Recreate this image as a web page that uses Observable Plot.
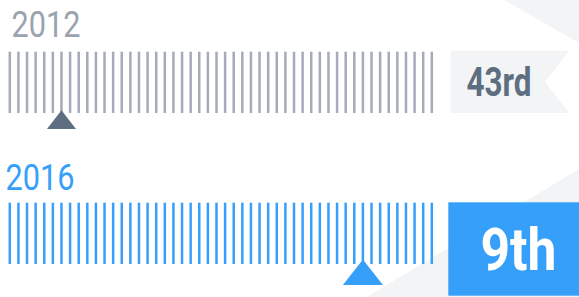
<!DOCTYPE html>
<html>
<head>
<meta charset="utf-8">
<script src="https://cdn.jsdelivr.net/npm/d3@7"></script>
<script src="https://cdn.jsdelivr.net/npm/@observablehq/plot@0.6"></script>
<style>
  html, body { margin: 0; padding: 0; background: #ffffff; }
  #chart { width: 579px; height: 297px; overflow: hidden; }
</style>
</head>
<body>
<div id="chart"></div>
<script>
// ---- data ----
const years = ["2012", "2016"];
const rankLabels = ["43rd", "9th"];
const markerPositions = [7, 42]; // slot of the marker along the strip, counted from the left
const stateCount = 50;           // one tick per state

const rows = years.map((year, i) => ({year, label: rankLabels[i], pos: markerPositions[i]}));
const ticks = years.flatMap(year => d3.range(1, stateCount + 1).map(slot => ({year, slot})));

const GRAY_TICK = "#a3acb8", GRAY_TEXT = "#9aa3ae", SLATE = "#5e6e81", LIGHT = "#f3f4f6", BLUE = "#369ffa";
const FONT = "Roboto, 'Liberation Sans', sans-serif";

// flattened upward triangle, apex at the anchor point
const flatTriangle = {
  draw(ctx, size) {
    const r = Math.sqrt(size / Math.PI);
    const h = 1.28 * r;
    ctx.moveTo(0, 0);
    ctx.lineTo(r, h);
    ctx.lineTo(-r, h);
    ctx.closePath();
  }
};

// decorative backgrounds and rank boxes, placed relative to the scales
function decorations(index, scales, values, dims) {
  const {x, y} = scales;
  const W = dims.width, H = dims.height;
  const bw = y.bandwidth();
  const g = d3.create("svg:g");
  g.append("polygon").attr("fill", LIGHT)
    .attr("points", [[W - 75, 0], [W, 0], [W, 43]].join(" "));
  g.append("polygon").attr("fill", LIGHT)
    .attr("points", [[W - 212, H], [W, H - 128], [W, H]].join(" "));
  const y0 = y(years[0]) - 1, y1 = y(years[0]) + bw;
  const l0 = x(stateCount) + 19.4, r0 = W - 9.7, n0 = W - 34;
  g.append("polygon").attr("fill", LIGHT)
    .attr("points", [[l0, y0], [r0, y0], [n0, (y0 + y1) / 2], [r0, y1], [l0, y1]].join(" "));
  const t1 = y(years[1]) - 0.4;
  g.append("rect").attr("fill", BLUE)
    .attr("x", x(stateCount) + 17).attr("y", t1)
    .attr("width", W - x(stateCount)).attr("height", 93.4);
  return g.node();
}

const chart = Plot.plot({
  width: 579,
  height: 297,
  margin: 0,
  style: {background: "#ffffff", overflow: "visible"},
  x: {domain: [1, stateCount], range: [9.3, 431.3], axis: null},
  y: {type: "band", domain: years, range: [51.7, 264], paddingInner: 0.594, paddingOuter: 0, round: false, axis: null},
  marks: [
    decorations,
    Plot.tickX(ticks.filter(d => d.year === years[0]), {x: "slot", y: "year", stroke: GRAY_TICK, strokeWidth: 2.5}),
    Plot.tickX(ticks.filter(d => d.year === years[1]), {x: "slot", y: "year", stroke: BLUE, strokeWidth: 2.5}),
    Plot.dot(rows.filter(d => d.year === years[0]), {x: "pos", y: "year", r: 14.5, symbol: flatTriangle, fill: SLATE, stroke: "none", dy: 27.5}),
    Plot.dot(rows.filter(d => d.year === years[1]), {x: "pos", y: "year", r: 20, symbol: flatTriangle, fill: BLUE, stroke: "none", dy: 25.6}),
    Plot.text(rows.filter(d => d.year === years[0]), {x: () => 1, y: "year", text: "year", textAnchor: "start", lineAnchor: "bottom", dx: 1.6, dy: -45.8, fill: GRAY_TEXT, fontSize: 36, fontFamily: FONT}),
    Plot.text(rows.filter(d => d.year === years[1]), {x: () => 1, y: "year", text: "year", textAnchor: "start", lineAnchor: "bottom", dx: -4.3, dy: -44.1, fill: BLUE, fontSize: 36, fontFamily: FONT}),
    Plot.text(rows.filter(d => d.year === years[0]), {x: () => stateCount, y: "year", text: "label", textAnchor: "middle", lineAnchor: "bottom", dx: 67.2, dy: 13.6, fill: SLATE, fontSize: 40, fontWeight: "bold", fontFamily: FONT}),
    Plot.text(rows.filter(d => d.year === years[1]), {x: () => stateCount, y: "year", text: "label", textAnchor: "middle", lineAnchor: "bottom", dx: 86.7, dy: 36.1, fill: "#ffffff", fontSize: 60, fontWeight: "bold", fontFamily: FONT})
  ]
});

// condense the lettering to match the narrow typeface of the original
const textWidths = new Map([[years[0], 69], [years[1], 69], [rankLabels[0], 65], [rankLabels[1], 76]]);
d3.select(chart).selectAll("text").each(function () {
  const w = textWidths.get(this.textContent);
  if (w) d3.select(this).attr("textLength", w).attr("lengthAdjust", "spacingAndGlyphs");
});

document.getElementById("chart").append(chart);
</script>
</body>
</html>
